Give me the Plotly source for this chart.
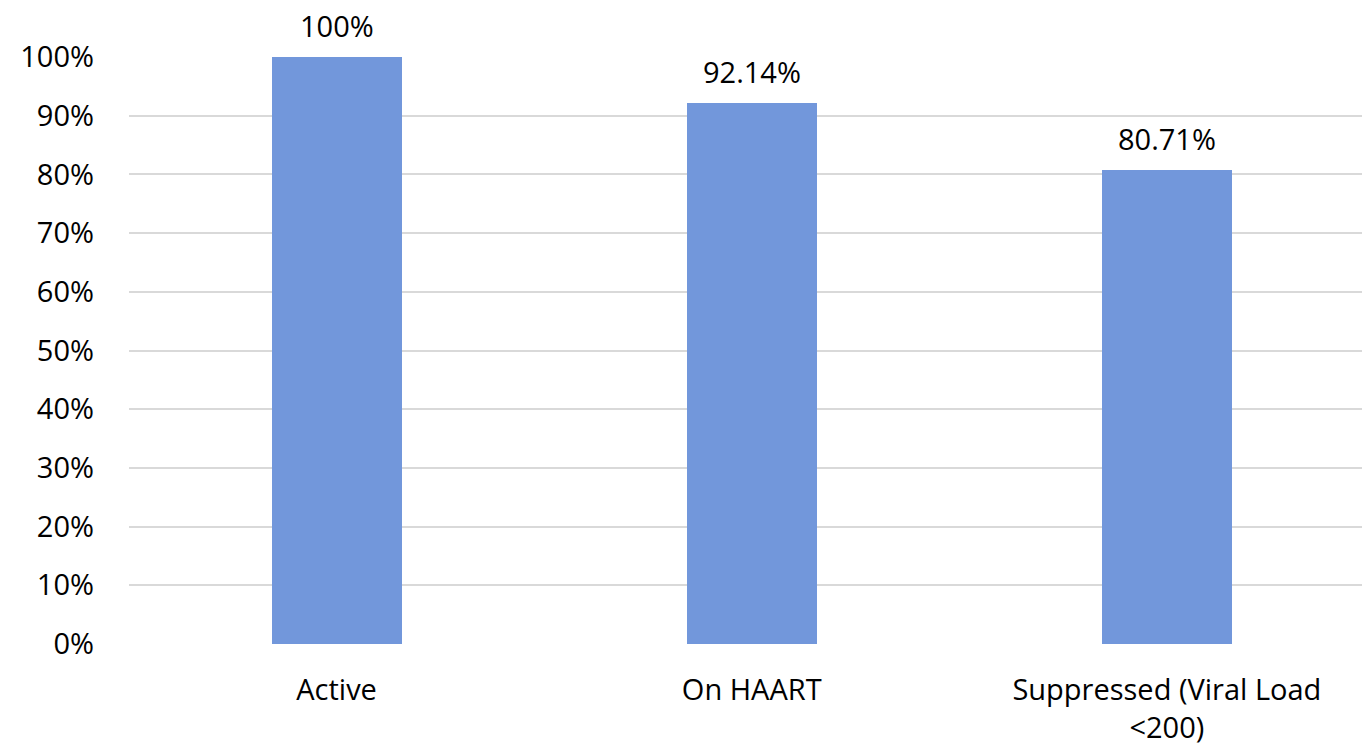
import plotly.graph_objects as go

# Care cascade: share of patients at each stage
categories = ["Active", "On HAART", "Suppressed (Viral Load<br>&lt;200)"]
values = [100, 92.14, 80.71]
y_ticks = [0, 10, 20, 30, 40, 50, 60, 70, 80, 90, 100]

BAR_COLOR = "#7297DB"
GRID_COLOR = "#D9D9D9"
FONT = "'Open Sans', Lato, sans-serif"
FS = 29

x_pos = list(range(len(categories)))

fig = go.Figure()
fig.add_trace(go.Bar(
    x=x_pos,
    y=values,
    width=0.313,
    marker=dict(color=BAR_COLOR, line=dict(width=0)),
    hoverinfo="skip",
))

# value labels above each bar
for xi, v in zip(x_pos, values):
    fig.add_annotation(
        x=xi, y=v, text=f"{v:g}%", showarrow=False,
        yanchor="bottom", yshift=10,
        font=dict(family=FONT, size=FS, color="#000000"),
    )

fig.update_layout(
    width=1362, height=756,
    margin=dict(l=129, r=0, t=57, b=112, pad=0),
    plot_bgcolor="white", paper_bgcolor="white",
    showlegend=False,
    font=dict(family=FONT, size=FS, color="#000000"),
    bargap=0,
)
fig.update_xaxes(
    range=[-0.5, 2.47],
    tickmode="array", tickvals=x_pos, ticktext=categories,
    showgrid=False, zeroline=False, showline=False,
    ticks="", ticklabelstandoff=26,
    tickfont=dict(family=FONT, size=FS, color="#000000"),
)
fig.update_yaxes(
    range=[0, 100],
    tickmode="array", tickvals=y_ticks,
    ticktext=[f"{t}%" for t in y_ticks],
    showgrid=True, gridcolor=GRID_COLOR, gridwidth=2,
    zeroline=False, showline=False,
    ticks="", ticklabelstandoff=34,
    tickfont=dict(family=FONT, size=FS, color="#000000"),
)

fig.write_html("out.html")
